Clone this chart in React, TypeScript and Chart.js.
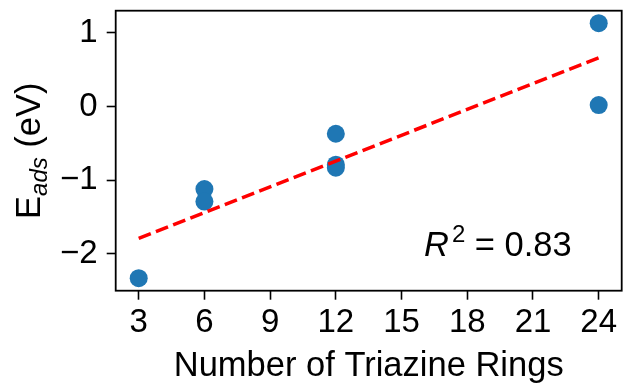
import React, { useEffect, useRef } from 'react';
import { Chart, registerables } from 'chart.js';

Chart.register(...registerables);

const xPoints = [3, 6, 6, 12, 12, 12, 24, 24];
const yPoints = [-2.33, -1.12, -1.29, -0.37, -0.79, -0.83, 1.13, 0.02];
const fitX = [3, 24];
const fitY = [-1.79, 0.66];
const xTicks = [3, 6, 9, 12, 15, 18, 21, 24];
const yTicks = [-2, -1, 0, 1];
const xLabel = 'Number of Triazine Rings';
const yLabelMain = 'E';
const yLabelSub = 'ads';
const yLabelUnit = ' (eV)';
const r2Value = '0.83';

const FAMILY = '"Liberation Sans", Arial, Helvetica, sans-serif';

const fmt = (v: number) => (v < 0 ? '\u2212' + Math.abs(v) : String(v));

const zeroPad = (s: any) => {
  s.paddingTop = 0;
  s.paddingBottom = 0;
  s.paddingLeft = 0;
  s.paddingRight = 0;
};

export default function App() {
  const ref = useRef<HTMLCanvasElement>(null);

  useEffect(() => {
    document.body.style.margin = '0';
    document.body.style.overflow = 'hidden';
    const canvas = ref.current;
    if (!canvas) return;

    const textPlugin = {
      id: 'texts',
      afterDraw(chart: any) {
        const { ctx, chartArea: a } = chart;
        ctx.save();
        ctx.strokeStyle = '#000';
        ctx.lineWidth = 1.8;
        ctx.strokeRect(a.left, a.top, a.right - a.left, a.bottom - a.top);

        ctx.fillStyle = '#000';
        ctx.textBaseline = 'alphabetic';

        // x label
        ctx.font = `34.5px ${FAMILY}`;
        ctx.textAlign = 'center';
        ctx.fillText(xLabel, (a.left + a.right) / 2, 376);

        // y label (rotated)
        ctx.textAlign = 'left';
        const parts = [
          { t: yLabelMain, f: `34.5px ${FAMILY}`, dy: 0 },
          { t: yLabelSub, f: `italic 24px ${FAMILY}`, dy: 7 },
          { t: yLabelUnit, f: `34.5px ${FAMILY}`, dy: 0 },
        ];
        let total = 0;
        const widths = parts.map((p) => {
          ctx.font = p.f;
          const w = ctx.measureText(p.t).width;
          total += w;
          return w;
        });
        ctx.translate(40, (a.top + a.bottom) / 2);
        ctx.rotate(-Math.PI / 2);
        let u = -total / 2;
        parts.forEach((p, i) => {
          ctx.font = p.f;
          ctx.fillText(p.t, u, p.dy);
          u += widths[i];
        });
        ctx.setTransform(1, 0, 0, 1, 0, 0);

        // R^2 annotation
        let x = 424;
        const by = 256;
        ctx.font = `italic 34.5px ${FAMILY}`;
        ctx.fillText('R', x, by);
        x += ctx.measureText('R').width + 3;
        ctx.font = `24px ${FAMILY}`;
        ctx.fillText('2', x, by - 14);
        x += ctx.measureText('2').width;
        ctx.font = `34.5px ${FAMILY}`;
        ctx.fillText(' = ' + r2Value, x, by);
        ctx.restore();
      },
    };

    const tickFont = { family: FAMILY, size: 33 };

    const chart = new Chart(canvas, {
      type: 'scatter',
      data: {
        datasets: [
          {
            type: 'line',
            data: fitX.map((x, i) => ({ x, y: fitY[i] })),
            borderColor: '#ff0000',
            borderWidth: 3.5,
            borderDash: [13, 5.5],
            pointRadius: 0,
            fill: false,
            order: 0,
          } as any,
          {
            type: 'scatter',
            data: xPoints.map((x, i) => ({ x, y: yPoints[i] })),
            backgroundColor: '#1f77b4',
            borderWidth: 0,
            pointRadius: 9,
            order: 1,
          },
        ],
      },
      options: {
        animation: false,
        responsive: false,
        maintainAspectRatio: false,
        layout: { padding: { top: 10.7, right: 10.3, left: 0, bottom: 0 } },
        plugins: { legend: { display: false }, tooltip: { enabled: false } },
        scales: {
          x: {
            type: 'linear',
            min: 1.95,
            max: 25.05,
            afterFit(s: any) {
              s.height = 92.3;
              zeroPad(s);
            },
            afterBuildTicks(s: any) {
              s.ticks = xTicks.map((v) => ({ value: v }));
            },
            grid: { drawOnChartArea: false, drawTicks: true, tickLength: 9, tickColor: '#000', tickWidth: 1.6 },
            border: { display: false },
            ticks: {
              color: '#000',
              font: tickFont,
              padding: 3,
              maxRotation: 0,
              autoSkip: false,
              callback: (v: any) => fmt(Number(v)),
            },
          },
          y: {
            type: 'linear',
            min: -2.5,
            max: 1.3,
            afterFit(s: any) {
              s.width = 115.7;
              zeroPad(s);
            },
            afterBuildTicks(s: any) {
              s.ticks = yTicks.map((v) => ({ value: v }));
            },
            grid: { drawOnChartArea: false, drawTicks: true, tickLength: 9, tickColor: '#000', tickWidth: 1.6 },
            border: { display: false },
            ticks: {
              color: '#000',
              font: tickFont,
              padding: 9,
              autoSkip: false,
              callback: (v: any) => fmt(Number(v)),
            },
          },
        },
      },
      plugins: [textPlugin],
    });

    return () => chart.destroy();
  }, []);

  return (
    <div style={{ width: 632, height: 383 }}>
      <canvas ref={ref} width={632} height={383} style={{ display: 'block' }} />
    </div>
  );
}
